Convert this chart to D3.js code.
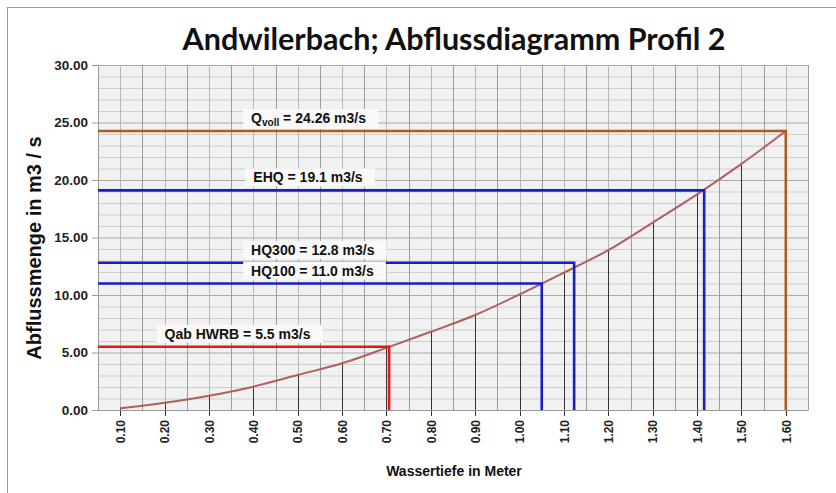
<!DOCTYPE html>
<html><head><meta charset="utf-8">
<script src="https://cdn.jsdelivr.net/npm/d3@7"></script>
<style>
body{margin:0;background:#fff;}
text{font-family:"Liberation Sans",Arial,sans-serif;}
</style></head>
<body>
<svg id="c" width="836" height="493"></svg>
<script>
const depths = [0.10,0.20,0.30,0.40,0.50,0.60,0.70,0.80,0.90,1.00,1.10,1.20,1.30,1.40,1.50,1.60];
const flows  = [0.15,0.63,1.24,2.03,3.04,4.06,5.40,6.80,8.26,10.05,11.95,13.90,16.30,18.75,21.40,24.26];
const xTickLabels = ["0.10","0.20","0.30","0.40","0.50","0.60","0.70","0.80","0.90","1.00","1.10","1.20","1.30","1.40","1.50","1.60"];
const yTicks = [0,5,10,15,20,25,30];
const refNames  = ["Qvoll","EHQ","HQ300","HQ100","Qab HWRB"];
const refFlows  = [24.26,19.1,12.8,11.0,5.5];
const refDepths = [1.60,1.416,1.123,1.05,0.706];
const refLabels = [" = 24.26 m3/s","EHQ = 19.1 m3/s","HQ300 = 12.8 m3/s","HQ100 = 11.0 m3/s","Qab HWRB = 5.5 m3/s"];
const refColors = ["#a95d1f","#1b1bc8","#1b1bc8","#1b1bc8","#e01818"];
const labelDepths = [0.395,0.40,0.395,0.395,0.20];

const svg = d3.select("#c");
const L=98,R=808,T=65,B=410;
const x = d3.scaleLinear().domain([0.05,1.65]).range([L,R]);
const y = d3.scaleLinear().domain([0,30]).range([B,T]);

// frame
svg.append("line").attr("x1",7).attr("x2",836).attr("y1",7.5).attr("y2",7.5).attr("stroke","#999");
svg.append("line").attr("x1",7.5).attr("x2",7.5).attr("y1",7).attr("y2",493).attr("stroke","#999");

// title
svg.append("text").attr("x",454).attr("y",50).attr("text-anchor","middle")
  .style("font-family","Lato,sans-serif").style("font-weight","700").style("font-size","30.5px")
  .attr("fill","#111").text("Andwilerbach; Abflussdiagramm Profil 2");

// plot bg
svg.append("rect").attr("x",L).attr("y",T).attr("width",R-L).attr("height",B-T).attr("fill","#f1f1f1");

// grid horizontal
const hMinor = d3.range(0,31,1);
svg.append("g").selectAll("line").data(hMinor).join("line")
  .attr("x1",L).attr("x2",R).attr("y1",d=>y(d)+0.5).attr("y2",d=>y(d)+0.5)
  .attr("stroke",d=>d%5===0?"#a9a9a9":"#cfcfcf").attr("stroke-width",1);
// grid vertical
const vGrid = d3.range(0,33).map(i=>0.05+i*0.05);
svg.append("g").selectAll("line").data(vGrid).join("line")
  .attr("x1",d=>Math.round(x(d))+0.5).attr("x2",d=>Math.round(x(d))+0.5).attr("y1",T).attr("y2",B)
  .attr("stroke",(d,i)=>i%2===0?"#9c9c9c":"#b8b8b8").attr("stroke-width",1);

// drop lines from curve
svg.append("g").selectAll("line").data(depths).join("line")
  .attr("x1",d=>Math.round(x(d))+0.5).attr("x2",d=>Math.round(x(d))+0.5)
  .attr("y1",(d,i)=>y(flows[i])).attr("y2",B+6)
  .attr("stroke","#333").attr("stroke-width",1);

// axes
const yAxis = d3.axisLeft(y).tickValues(yTicks).tickFormat(d3.format(".2f")).tickSize(6).tickPadding(4);
const gy = svg.append("g").attr("transform",`translate(${L},0)`).call(yAxis);
gy.select(".domain").attr("stroke","#999");
gy.selectAll(".tick line").attr("stroke","#999");
gy.selectAll("text").style("font-size","13.5px").style("font-weight","700").attr("fill","#222");

const xAxis = d3.axisBottom(x).tickValues(depths).tickFormat((d,i)=>xTickLabels[i]).tickSize(0).tickPadding(0);
const gx = svg.append("g").attr("transform",`translate(0,${B})`).call(xAxis);
gx.select(".domain").attr("stroke","#999");
gx.selectAll("text").style("font-size","12px").style("font-weight","700").attr("fill","#222")
  .attr("transform","rotate(-90)").attr("text-anchor","end").attr("x",-10).attr("y",0).attr("dy","0.35em");

// curve
svg.append("path").datum(depths.map((d,i)=>[d,flows[i]]))
  .attr("d",d3.line().x(d=>x(d[0])).y(d=>y(d[1])).curve(d3.curveMonotoneX))
  .attr("fill","none").attr("stroke","#b0605c").attr("stroke-width",2);

// reference lines
refFlows.forEach((q,i)=>{
  const col = refColors[i];
  svg.append("path").attr("d",`M${L},${y(q)}H${x(refDepths[i])}V${B}`)
    .attr("fill","none").attr("stroke",col).attr("stroke-width",2.6);
});

// labels
refFlows.forEach((q,i)=>{
  const g = svg.append("g");
  const t = g.append("text").attr("x",x(labelDepths[i])).attr("y",y(q)-8)
    .style("font-size","14px").style("font-weight","700").attr("fill","#111");
  if(i===0){
    t.append("tspan").text("Q");
    t.append("tspan").attr("dy",3).style("font-size","10px").text("voll");
    t.append("tspan").attr("dy",-3).text(refLabels[0]);
  } else t.text(refLabels[i]);
  const bb = t.node().getBBox();
  g.insert("rect","text").attr("x",bb.x-8).attr("y",bb.y-1).attr("width",bb.width+20).attr("height",bb.height+2)
    .attr("fill","#f9f9f9");
});

// axis titles
svg.append("text").attr("transform","translate(41,248) rotate(-90)").attr("text-anchor","middle")
  .style("font-size","20px").style("font-weight","700").attr("fill","#111").text("Abflussmenge in m3 / s");
svg.append("text").attr("x",454).attr("y",476).attr("text-anchor","middle")
  .style("font-size","14px").style("font-weight","700").attr("fill","#111").text("Wassertiefe in Meter");
</script>
</body></html>
